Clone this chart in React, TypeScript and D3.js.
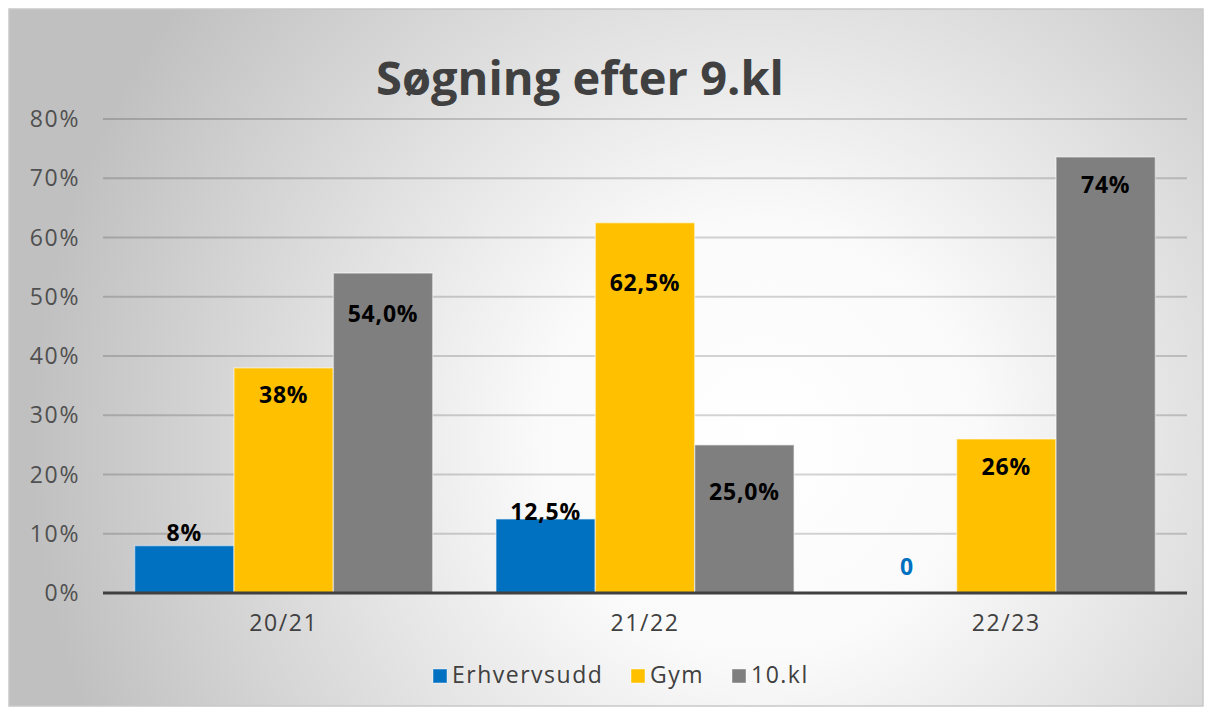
import React from "react";
import * as d3 from "d3";

const categories = ["20/21", "21/22", "22/23"];
const seriesNames = ["Erhvervsudd", "Gym", "10.kl"];
const erhvervsudd = [8, 12.5, 0];
const gym = [38, 62.5, 26];
const tiende = [54, 25, 73.6];
const erhvLabels = ["8%", "12,5%", "0"];
const gymLabels = ["38%", "62,5%", "26%"];
const tiendeLabels = ["54,0%", "25,0%", "74%"];
const yTicks = [0, 10, 20, 30, 40, 50, 60, 70, 80];
const colors = ["#0070C0", "#FFC000", "#7F7F7F"];
// label offsets (px) from bar top to label center
const labelDy = [
  [-13, -7, -26],
  [27, 60, 28],
  [41, 47, 28],
];

const W = 1206;
const H = 710;
const left = 103;
const right = 1187;
const top = 119;
const bottom = 593;
const FONT = "'Open Sans', sans-serif";

export default function App() {
  const values = [erhvervsudd, gym, tiende];
  const labels = [erhvLabels, gymLabels, tiendeLabels];
  const y = d3.scaleLinear().domain([0, 80]).range([bottom, top]);
  const x0 = d3
    .scaleBand<string>()
    .domain(categories)
    .range([left, right])
    .paddingInner(0.175)
    .paddingOuter(0.0875);
  const x1 = d3
    .scaleBand<string>()
    .domain(seriesNames)
    .range([0, x0.bandwidth()]);

  const legendX = [433, 631, 732];

  return (
    <svg
      width={W}
      height={H}
      style={{ position: "absolute", left: 0, top: 0 }}
      fontFamily={FONT}
    >
      <defs>
        <radialGradient
          id="bg"
          gradientUnits="userSpaceOnUse"
          cx={760}
          cy={440}
          r={730}
        >
          <stop offset="0" stopColor="#ffffff" />
          <stop offset="0.3" stopColor="#fafafa" />
          <stop offset="1" stopColor="#c0c0c0" />
        </radialGradient>
      </defs>
      <rect width={W} height={H} fill="#ffffff" />
      <rect
        x={9}
        y={9}
        width={1194}
        height={697}
        fill="url(#bg)"
        stroke="#c8c8c8"
        strokeWidth={1.5}
      />
      <text
        x={580}
        y={95}
        textAnchor="middle"
        fontSize={47}
        fontWeight={700}
        fill="#404040"
      >
        Søgning efter 9.kl
      </text>
      {yTicks.map((t) => (
        <g key={t}>
          {t > 0 && (
            <line
              x1={left}
              x2={right}
              y1={y(t)}
              y2={y(t)}
              stroke="rgba(0,0,0,0.17)"
              strokeWidth={2}
            />
          )}
          <text
            x={80}
            y={y(t)}
            dy="0.35em"
            textAnchor="end"
            fontSize={23}
            letterSpacing={1.6}
            fill="#505050"
          >
            {t}%
          </text>
        </g>
      ))}
      {categories.map((c, ci) => (
        <g key={c}>
          {seriesNames.map((s, si) => {
            const v = values[si][ci];
            const bx = (x0(c) as number) + (x1(s) as number);
            const bw = x1.bandwidth();
            return v > 0 ? (
              <rect
                key={s}
                x={bx}
                y={y(v)}
                width={bw}
                height={y(0) - y(v)}
                fill={colors[si]}
                stroke="rgba(255,255,255,0.45)"
                strokeWidth={1.5}
              />
            ) : null;
          })}
        </g>
      ))}
      <line
        x1={left}
        x2={right}
        y1={bottom}
        y2={bottom}
        stroke="#404040"
        strokeWidth={3}
      />
      {categories.map((c, ci) => (
        <g key={"l" + c}>
          {seriesNames.map((s, si) => {
            const v = values[si][ci];
            const cx = (x0(c) as number) + (x1(s) as number) + x1.bandwidth() / 2;
            const isZero = v === 0;
            return (
              <text
                key={s}
                x={cx}
                y={y(v) + labelDy[si][ci]}
                dy="0.35em"
                textAnchor="middle"
                fontSize={23}
                fontWeight={700}
                letterSpacing={0.8}
                fill={isZero ? colors[0] : "#000000"}
              >
                {labels[si][ci]}
              </text>
            );
          })}
          <text
            x={(x0(c) as number) + x0.bandwidth() / 2}
            y={631}
            textAnchor="middle"
            fontSize={23}
            letterSpacing={1.6}
            fill="#404040"
          >
            {c}
          </text>
        </g>
      ))}
      {seriesNames.map((s, si) => (
        <g key={"leg" + s}>
          <rect
            x={legendX[si]}
            y={669}
            width={14}
            height={14}
            fill={colors[si]}
            stroke="rgba(255,255,255,0.45)"
            strokeWidth={1}
          />
          <text
            x={legendX[si] + 19}
            y={683}
            fontSize={23}
            letterSpacing={1.5}
            fill="#404040"
          >
            {s}
          </text>
        </g>
      ))}
    </svg>
  );
}
